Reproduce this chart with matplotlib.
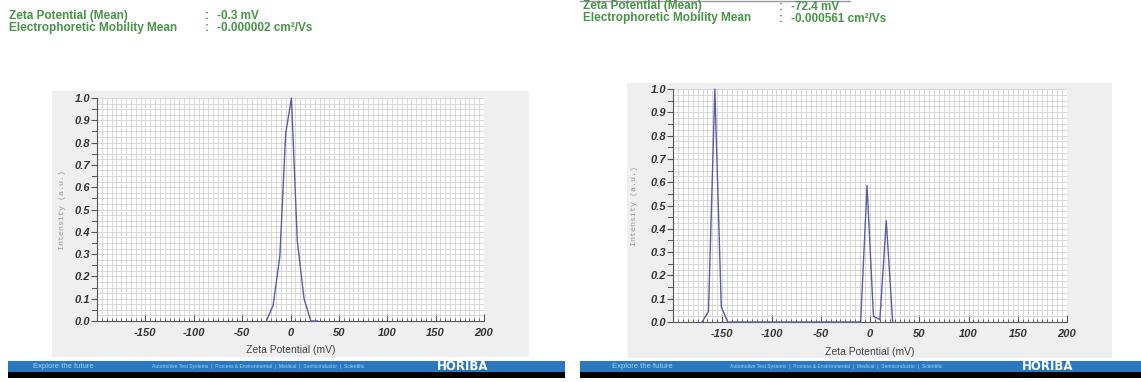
import matplotlib.pyplot as plt
import numpy as np
from matplotlib.patches import Rectangle
from matplotlib.ticker import MultipleLocator
from matplotlib.lines import Line2D

# Zeta potential distributions (mV vs normalised intensity)
left_zeta = [-25, -18, -11, -5, 1, 7, 14, 21, 28]
left_intensity = [0.0, 0.07, 0.29, 0.84, 1.0, 0.36, 0.10, 0.0, 0.0]

right_zeta = [-170.5, -164, -157.5, -151, -144.5, -9.5, -3, 3.5, 10, 16.5, 23]
right_intensity = [0.0, 0.045, 1.0, 0.065, 0.0, 0.0, 0.585, 0.025, 0.01, 0.435, 0.0]

left_summary = ["-0.3 mV", "-0.000002 cm\u00b2/Vs"]
right_summary = ["-72.4 mV", "-0.000561 cm\u00b2/Vs"]
summary_labels = ["Zeta Potential (Mean)", "Electrophoretic Mobility Mean"]

x_ticks = [-150, -100, -50, 0, 50, 100, 150, 200]
y_ticks = [0.0, 0.1, 0.2, 0.3, 0.4, 0.5, 0.6, 0.7, 0.8, 0.9, 1.0]

W, H = 1141, 382
fig = plt.figure(figsize=(W / 100, H / 100), dpi=100)
fig.patch.set_facecolor('white')

GREEN = '#469446'
LINE = '#5a5ca8'
BLUE = '#2a79c0'


def rect(x0, y0, x1, y1):
    # pixel box (top-left origin) -> figure fraction
    return [x0 / W, 1 - y1 / H, (x1 - x0) / W, (y1 - y0) / H]


def fx(x):
    return x / W


def fy(y):
    return 1 - y / H


def panel(box, axbox, xs, ys, ylab_x, xlab_y):
    r = rect(*box)
    fig.add_artist(Rectangle((r[0], r[1]), r[2], r[3], transform=fig.transFigure,
                             facecolor='#efefef', edgecolor='none', zorder=0))
    ax = fig.add_axes(rect(*axbox))
    ax.set_facecolor('white')
    ax.plot(xs, ys, color=LINE, lw=1.0, zorder=3, clip_on=False)
    ax.set_xlim(-200, 200)
    ax.set_ylim(0, 1)

    ax.xaxis.set_minor_locator(MultipleLocator(5))
    ax.yaxis.set_minor_locator(MultipleLocator(0.025))
    ax.set_xticks(x_ticks)
    ax.set_yticks(y_ticks)
    ax.set_xticklabels([str(t) for t in x_ticks])
    ax.set_yticklabels([f'{t:.1f}' for t in y_ticks])
    ax.grid(True, which='both', color='#d2d2d2', lw=0.6, zorder=1)
    ax.set_axisbelow(True)

    for s in ['top', 'right']:
        ax.spines[s].set_visible(False)
    for s in ['left', 'bottom']:
        ax.spines[s].set_color('#555555')
        ax.spines[s].set_linewidth(0.8)

    ax.tick_params(axis='x', which='major', direction='in', length=5, width=0.8,
                   color='#555555', pad=5)
    ax.tick_params(axis='x', which='minor', direction='in', length=2.5, width=0.6,
                   color='#555555')
    ax.tick_params(axis='y', which='major', direction='out', length=4, width=0.8,
                   color='#555555', pad=1)
    ax.tick_params(axis='y', which='minor', length=0)
    # short outward marks at the half steps on the y axis
    for v in np.arange(0.05, 1.0, 0.1):
        ax.plot([-0.012, 0], [v, v], transform=ax.get_yaxis_transform(),
                color='#555555', lw=0.7, clip_on=False)

    for lab in ax.get_xticklabels() + ax.get_yticklabels():
        lab.set_fontfamily('Liberation Sans')
        lab.set_fontweight('bold')
        lab.set_fontstyle('italic')
        lab.set_fontsize(8)
        lab.set_color('#333333')

    cx = (axbox[0] + axbox[2]) / 2
    fig.text(fx(cx), fy(xlab_y), 'Zeta Potential (mV)', ha='center', va='center',
             fontsize=7.5, family='Liberation Sans', color='#444444')
    cy = (axbox[1] + axbox[3]) / 2
    fig.text(fx(ylab_x), fy(cy), 'Intensity (a.u.)', ha='center', va='center',
             rotation=90, fontsize=6, family='Liberation Mono', color='#9a9a9a')
    return ax


panel((52, 91, 529, 357), (97, 98, 484, 321), left_zeta, left_intensity, 62, 350)
panel((627, 83, 1112, 358), (673, 89, 1067, 322), right_zeta, right_intensity, 635, 352)

# summary header text
for x0, ytop, vals in [(9, 16, left_summary), (583, 6.5, right_summary)]:
    for i, (lab, val) in enumerate(zip(summary_labels, vals)):
        y = ytop + 12 * i
        fig.text(fx(x0), fy(y), lab, ha='left', va='center', fontsize=8.5,
                 fontweight='bold', family='Liberation Sans', color=GREEN)
        fig.text(fx(x0 + 196), fy(y), ':', ha='left', va='center', fontsize=8.5,
                 fontweight='bold', family='Liberation Sans', color=GREEN)
        fig.text(fx(x0 + 208), fy(y), val, ha='left', va='center', fontsize=8.5,
                 fontweight='bold', family='Liberation Sans', color=GREEN)

# faint rule above the second header
fig.add_artist(Line2D([fx(580), fx(850)], [fy(0.5), fy(0.5)], transform=fig.transFigure,
                      color='#9a9a9a', lw=1))

# footer banners
for x0, x1, t1, t2, t3 in [(8, 565, 33, 152, 437), (580, 1141, 612, 730, 1022)]:
    r = rect(x0, 361, x1, 372)
    fig.add_artist(Rectangle((r[0], r[1]), r[2], r[3], transform=fig.transFigure,
                             facecolor=BLUE, edgecolor='none'))
    r = rect(x0, 372, x1, 378)
    fig.add_artist(Rectangle((r[0], r[1]), r[2], r[3], transform=fig.transFigure,
                             facecolor='black', edgecolor='none'))
    fig.text(fx(t1), fy(366.5), 'Explore the future', ha='left', va='center',
             fontsize=5.5, family='Liberation Sans', color='#a8d2f2')
    fig.text(fx(t2), fy(366.5),
             'Automotive Test Systems  |  Process & Environmental  |  Medical  |  '
             'Semiconductor  |  Scientific',
             ha='left', va='center', fontsize=3.6, family='Liberation Sans', color='#a8d2f2')
    fig.text(fx(t3), fy(366.5), 'HORIBA', ha='left', va='center', fontsize=8.5,
             fontweight='bold', family='DejaVu Sans', color='white')

fig.savefig('out.png', dpi=100)
